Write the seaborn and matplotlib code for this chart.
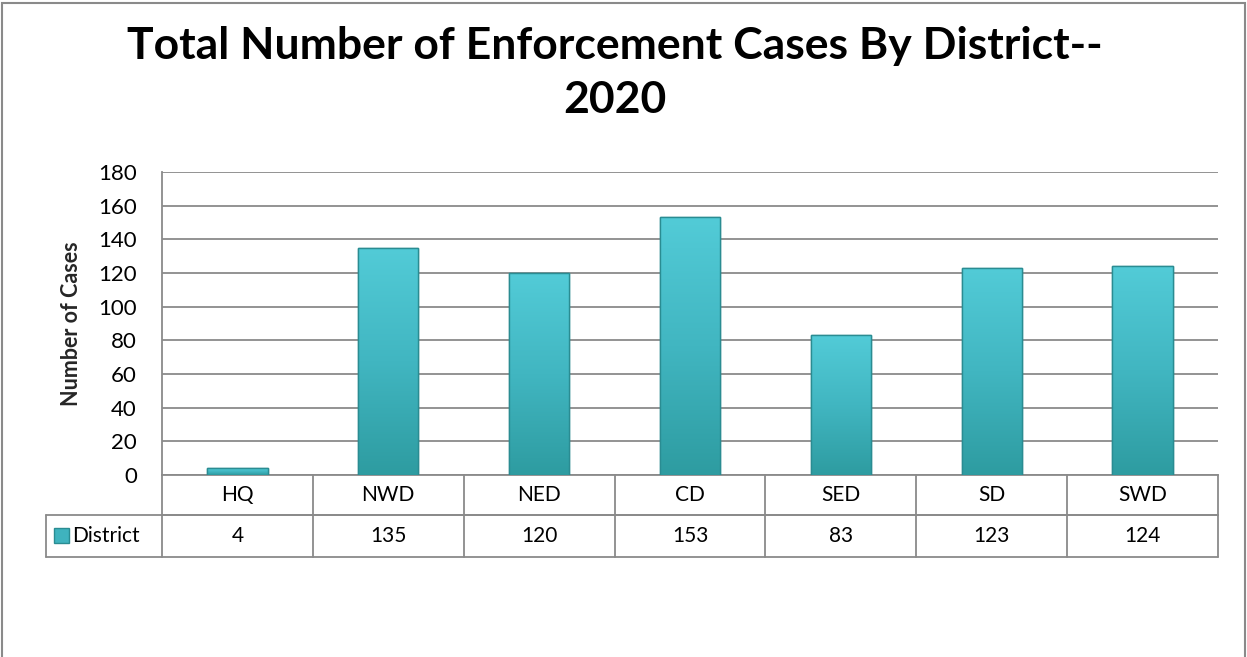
import matplotlib
matplotlib.use("Agg")
import matplotlib.pyplot as plt
import matplotlib.colors as mcolors
from matplotlib.patches import Rectangle
import seaborn as sns
import numpy as np
import pandas as pd

# data
districts = ["HQ", "NWD", "NED", "CD", "SED", "SD", "SWD"]
cases = [4, 135, 120, 153, 83, 123, 124]
series_name = "District"

df = pd.DataFrame({"district": districts, "cases": cases})

sns.set_style("white")
plt.rcParams["font.family"] = ["Lato", "DejaVu Sans"]
plt.rcParams["text.color"] = "black"
plt.rcParams["ytick.color"] = "black"

fig = plt.figure(figsize=(12.47, 6.57), dpi=100)
ax = fig.add_axes([162 / 1247, 182 / 657, 1056 / 1247, 303 / 657])

sns.barplot(data=df, x="district", y="cases", color="#45BDC8", width=0.4,
            edgecolor="#2A8C92", linewidth=1.0, ax=ax, zorder=3)

# gradient fill on the bars
grad_cmap = mcolors.LinearSegmentedColormap.from_list("bar", ["#2E9CA1", "#41B6C1", "#52CBD7"])
grad = np.linspace(0, 1, 100).reshape(-1, 1)
for p in ax.patches:
    x0, y0 = p.get_x(), p.get_y()
    w, h = p.get_width(), p.get_height()
    im = ax.imshow(grad, cmap=grad_cmap, origin="lower", aspect="auto",
                   extent=[x0, x0 + w, y0, y0 + h], zorder=3.5)
    im.set_clip_path(p)
    ax.add_patch(Rectangle((x0, y0), w, h, fill=False, edgecolor="#2A8C92",
                           lw=1.0, zorder=4))

ax.set_xlim(-0.5, len(districts) - 0.5)
ax.set_ylim(0, 180)
ax.set_yticks(range(0, 181, 20))
ax.tick_params(axis="y", labelsize=16, length=0, pad=18)
ax.set_xticks([])
ax.set_xlabel("")
ax.set_ylabel("Number of Cases", fontsize=15.5, fontweight="bold", labelpad=12)
ax.grid(axis="y", color="#8A8A8A", linewidth=1.3, zorder=0)
ax.set_axisbelow(True)
for s in ["top", "right"]:
    ax.spines[s].set_visible(False)
ax.spines["left"].set_color("#8A8A8A")
ax.spines["left"].set_linewidth(1.3)
ax.spines["bottom"].set_color("#8A8A8A")
ax.spines["bottom"].set_linewidth(1.3)

fig.text(615 / 1247, 1 - 73 / 657, "Total Number of Enforcement Cases By District--\n2020",
         ha="center", va="center", fontsize=32, fontweight="bold", linespacing=1.45)

# data table below the axis
tr = ax.get_xaxis_transform()
n = len(districts)
r1 = -40 / 303
r2 = -82 / 303
lab_left = -0.5 - 116 / (1056 / n)
line_kw = dict(color="#8A8A8A", lw=1.3, transform=tr, clip_on=False)
ax.plot([-0.5, n - 0.5], [r1, r1], **line_kw)
ax.plot([lab_left, n - 0.5], [r1, r1], **line_kw)
ax.plot([lab_left, n - 0.5], [r2, r2], **line_kw)
ax.plot([lab_left, lab_left], [r1, r2], **line_kw)
for i in range(n + 1):
    ax.plot([i - 0.5, i - 0.5], [0, r2], **line_kw)
for i, (d, v) in enumerate(zip(districts, cases)):
    ax.text(i, r1 / 2, d, transform=tr, ha="center", va="center", fontsize=15)
    ax.text(i, (r1 + r2) / 2, str(v), transform=tr, ha="center", va="center", fontsize=15)

# legend key + series name
ax.text(lab_left + 0.17, (r1 + r2) / 2, series_name, transform=tr,
        ha="left", va="center", fontsize=15)
key = Rectangle((lab_left + 0.055, (r1 + r2) / 2 - 0.024), 0.095, 0.05,
                transform=tr, facecolor="#3FB3BE", edgecolor="#2A8C92",
                lw=1, clip_on=False)
ax.add_patch(key)

# outer chart border
fig.patches.append(Rectangle((0.002, -0.01), 0.996, 1.006, transform=fig.transFigure,
                             fill=False, edgecolor="#8A8A8A", lw=1.5))

fig.savefig("out.png", dpi=100)
